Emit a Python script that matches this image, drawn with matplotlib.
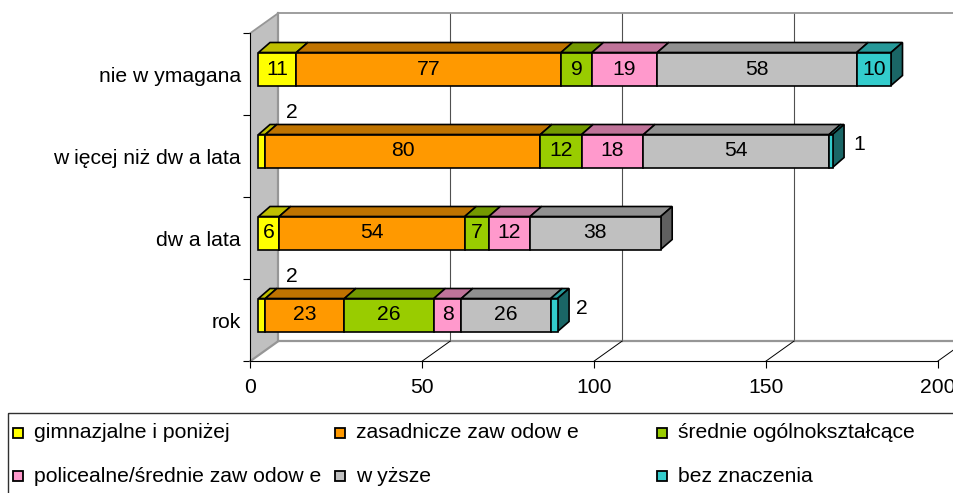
import matplotlib
matplotlib.use('Agg')
import matplotlib.pyplot as plt
from matplotlib.patches import Polygon, Rectangle

plt.rcParams['font.family'] = ['Liberation Sans', 'DejaVu Sans']

# Data (bottom row first)
categories = ['rok', 'dw a lata', 'w ięcej niż dw a lata', 'nie w ymagana']
gimnazjalne = [2, 6, 2, 11]
zasadnicze = [23, 54, 80, 77]
srednie = [26, 7, 12, 9]
policealne = [8, 12, 18, 19]
wyzsze = [26, 38, 54, 58]
bez_znaczenia = [2, 0, 1, 10]

series = [gimnazjalne, zasadnicze, srednie, policealne, wyzsze, bez_znaczenia]
names = ['gimnazjalne i poniżej', 'zasadnicze zaw odow e', 'średnie ogólnokształcące',
         'policealne/średnie zaw odow e', 'w yższe', 'bez znaczenia']
colors = ['#FFFF00', '#FF9900', '#99CC00', '#FF99CC', '#C0C0C0', '#33CCCC']
tops = ['#BFBF00', '#BF7300', '#739900', '#BF7399', '#909090', '#269999']
sides = ['#808000', '#804C00', '#4C6600', '#804C66', '#606060', '#1A6666']
xticks = [0, 50, 100, 150, 200]

W, H = 954, 493
FS = 15.2
fig = plt.figure(figsize=(W / 100, H / 100), dpi=100)
ax = fig.add_axes([250.5 / W, (H - 361) / H, 687.5 / W, 328 / H])
ax.set_xlim(0, 200)
ax.set_ylim(0, 4)

# pixel sizes turned into data units
px = 200 / 687.5
py = 4 / 328
wall_dx, wall_dy = 28 * px, 20 * py
bar_dx, bar_dy = 8 * px, 5 * py
depth_x, depth_y = 11.5 * px, 10 * py
bar_h = 33 * py

# side wall, back wall and floor
ax.add_patch(Polygon([(0, 0), (wall_dx, wall_dy), (wall_dx, 4 + wall_dy), (0, 4)],
                     facecolor='#C0C0C0', edgecolor='none', clip_on=False, zorder=1))
ax.plot([wall_dx, wall_dx], [wall_dy, 4 + wall_dy], color='#969696', lw=1.6, clip_on=False, zorder=2)
ax.plot([0, wall_dx, 210], [4, 4 + wall_dy, 4 + wall_dy], color='#969696', lw=1.3, clip_on=False, zorder=2)
ax.plot([0, wall_dx, 210], [0, wall_dy, wall_dy], color='#969696', lw=1.6, clip_on=False, zorder=2)
for x in xticks[1:]:
    ax.plot([x + wall_dx, x + wall_dx], [wall_dy, 4 + wall_dy], color='#505050', lw=0.8, clip_on=False, zorder=1.5)
    ax.plot([x, x + wall_dx], [0, wall_dy], color='black', lw=0.7, clip_on=False, zorder=2)

# stacked bars
for row in range(len(categories)):
    y = row + 0.5 + bar_dy
    left = bar_dx
    last = None
    for i, values in enumerate(series):
        v = values[row]
        if v == 0:
            continue
        ax.barh(y, v, height=bar_h, left=left, color=colors[i], edgecolor='black', lw=1.2,
                clip_on=False, zorder=4)
        yt = y + bar_h / 2
        ax.add_patch(Polygon([(left, yt), (left + v, yt), (left + v + depth_x, yt + depth_y),
                              (left + depth_x, yt + depth_y)], facecolor=tops[i], edgecolor='black',
                             lw=1.2, clip_on=False, zorder=3))
        tx = left + v / 2
        if i == 0 and v <= 2:
            # label of a thin first segment sits up and to the right
            ax.text(tx + 30 * px, y + 39 * py, str(v), ha='center', va='center', fontsize=FS, zorder=6)
        elif i == 5 and v <= 2:
            ax.text(tx + 28 * px, y + 6 * py, str(v), ha='center', va='center', fontsize=FS, zorder=6)
        else:
            ax.text(tx, y, str(v), ha='center', va='center', fontsize=FS, zorder=6)
        left += v
        last = i
    yb = y - bar_h / 2
    ax.add_patch(Polygon([(left, yb), (left + depth_x, yb + depth_y), (left + depth_x, y + bar_h / 2 + depth_y),
                          (left, y + bar_h / 2)], facecolor=sides[last], edgecolor='black', lw=1.2,
                         clip_on=False, zorder=3))

# axes
for s in ['top', 'right']:
    ax.spines[s].set_visible(False)
for s in ['left', 'bottom']:
    ax.spines[s].set_linewidth(0.8)
    ax.spines[s].set_zorder(2.5)
ax.set_xticks(xticks)
ax.set_yticks(range(5))
ax.set_yticklabels([''] * 5)
ax.set_yticks([r + 0.5 for r in range(4)], labels=categories, minor=True)
ax.tick_params(axis='x', length=5, width=0.8, labelsize=FS, pad=7)
ax.tick_params(axis='y', which='major', length=5, width=0.8)
ax.tick_params(axis='y', which='minor', length=0, labelsize=FS, pad=7)
ax.patch.set_alpha(0)

# legend box, columns are not evenly spaced so it is placed by hand
legend_ax = fig.add_axes([0, 0, 1, 1])
legend_ax.set_xlim(0, W)
legend_ax.set_ylim(H, 0)
legend_ax.axis('off')
legend_ax.add_patch(Rectangle((8, 413), W + 20, 100, facecolor='none', edgecolor='#303030', lw=1.0))
col_x = [13, 335, 657]
row_y = [433, 476]
for i, name in enumerate(names):
    cx = col_x[i % 3]
    cy = row_y[i // 3]
    legend_ax.add_patch(Rectangle((cx, cy - 5), 10, 10, facecolor=colors[i], edgecolor='black', lw=1.3))
    legend_ax.text(cx + 21, cy, name, ha='left', va='center', fontsize=FS)

fig.savefig('out.png', dpi=100)
